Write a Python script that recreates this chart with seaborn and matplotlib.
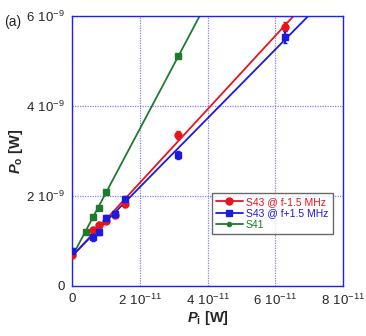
import numpy as np
import pandas as pd
import matplotlib
matplotlib.use("Agg")
import matplotlib.pyplot as plt
from matplotlib.lines import Line2D
import seaborn as sns

# values (x in 1e-11 W, y in 1e-9 W)
pi_s43 = [0.0, 0.62, 0.80, 1.00, 1.27, 1.56, 3.13, 6.28]
po_minus = [0.68, 1.24, 1.36, 1.45, 1.58, 1.82, 3.36, 5.76]
err_minus = [0.06, 0.07, 0.06, 0.06, 0.07, 0.07, 0.09, 0.10]
po_plus = [0.78, 1.08, 1.21, 1.50, 1.60, 1.93, 2.91, 5.54]
err_plus = [0.06, 0.08, 0.08, 0.07, 0.07, 0.07, 0.09, 0.13]
pi_s41 = [0.0, 0.41, 0.62, 0.80, 1.00, 3.13]
po_s41 = [0.71, 1.20, 1.54, 1.73, 2.09, 5.11]

labels = ["S43 @ f-1.5 MHz", "S43 @ f+1.5 MHz", "S41"]
colors = ["#e8141c", "#1a1ae0", "#1e7a2e"]
xtick_labels = ["0", "2\u200410$^{-11}$", "4\u200410$^{-11}$", "6\u200410$^{-11}$", "8\u200410$^{-11}$"]
ytick_labels = ["0", "2\u200410$^{-9}$", "4\u200410$^{-9}$", "6\u200410$^{-9}$"]

sns.set_style("white")
plt.rcParams["font.family"] = ["Liberation Sans", "DejaVu Sans"]
plt.rcParams["mathtext.fontset"] = "custom"
plt.rcParams["mathtext.rm"] = "Liberation Sans"
plt.rcParams["mathtext.it"] = "Liberation Sans:italic"
plt.rcParams["mathtext.bf"] = "Liberation Sans:bold"
plt.rcParams["mathtext.bfit"] = "Liberation Sans:bold:italic"

fig = plt.figure(figsize=(3.66, 3.36), dpi=100)
ax = fig.add_axes([0.197, 0.149, 0.740, 0.803])

series = [
    (pi_s43, po_minus, err_minus, "o", 5.0),
    (pi_s43, po_plus, err_plus, "s", 4.5),
    (pi_s41, po_s41, None, "s", 3.8),
]

xfit = np.linspace(0, 8, 50)
handles = []
for (xs, ys, es, mk, ms), lab, col in zip(series, labels, colors):
    xa = np.array(xs) * 1e-11
    ya = np.array(ys) * 1e-9
    k, b = np.polyfit(xs, ys, 1)
    fit = pd.DataFrame({"x": xfit * 1e-11, "y": (k * xfit + b) * 1e-9})
    sns.lineplot(data=fit, x="x", y="y", ax=ax, color=col, lw=1.3, zorder=2)
    if es is not None:
        ax.errorbar(xa, ya, yerr=np.array(es) * 1e-9, fmt=mk, color=col,
                    ms=ms, elinewidth=1.6, capsize=1.5, zorder=3)
        handles.append(Line2D([], [], color=col, marker=mk, ms=5, lw=1.3))
    else:
        ax.plot(xa, ya, mk, color=col, ms=ms, zorder=3)
        handles.append(Line2D([], [], color=col, marker="o", ms=3, lw=1.3))

ax.set_xlim(0, 8e-11)
ax.set_ylim(0, 6e-9)
ax.set_xticks([0, 2e-11, 4e-11, 6e-11, 8e-11])
ax.set_xticklabels(xtick_labels)
ax.set_yticks([0, 2e-9, 4e-9, 6e-9])
ax.set_yticklabels(ytick_labels)
ax.tick_params(labelsize=9.5, length=0, pad=5)
ax.grid(True, color="#8080ff", ls=(0, (1, 1)), lw=0.9)
ax.set_axisbelow(True)
for s in ax.spines.values():
    s.set_color("#2020f0")
    s.set_linewidth(1.0)

ax.set_xlabel(r"$\mathbfit{P}_\mathbf{i}$ [W]", fontsize=10.5, fontweight="bold", labelpad=1)
ax.set_ylabel(r"$\mathbfit{P}_\mathbf{o}$ [W]", fontsize=10.5, fontweight="bold", labelpad=1)

leg = ax.legend(handles, labels, loc="upper left", bbox_to_anchor=(0.515, 0.345),
                fontsize=7.5, frameon=True, fancybox=False, borderpad=0.4,
                handlelength=2.6, handletextpad=0.3, labelspacing=0.15,
                borderaxespad=0)
leg.get_frame().set_edgecolor("#444444")
leg.get_frame().set_linewidth(1.0)
for t, c in zip(leg.get_texts(), colors):
    t.set_color(c)

fig.text(0.012, 0.955, "(a)", fontsize=10, va="top")

fig.savefig("out.png", dpi=100)
